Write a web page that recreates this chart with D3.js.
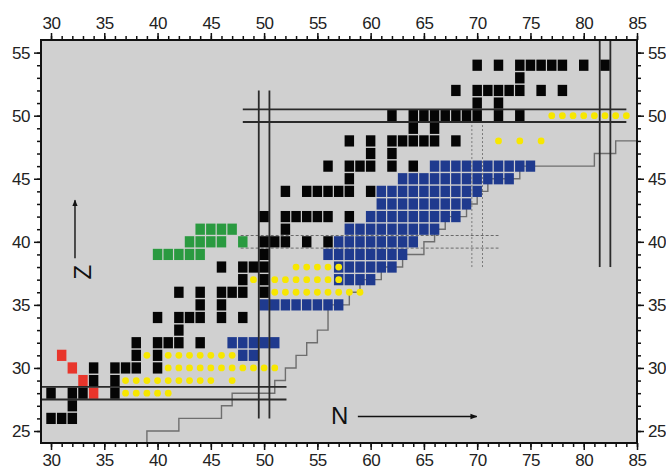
<!DOCTYPE html>
<html><head><meta charset="utf-8">
<script src="https://cdn.jsdelivr.net/npm/d3@7"></script>
<style>body{margin:0;background:#fff}svg{display:block}</style>
</head><body>
<svg id="c" width="666" height="474"></svg>
<script>
// ---- data (N = neutrons on x, Z = protons on y) ----
const xTickLabels = [30,35,40,45,50,55,60,65,70,75,80,85];
const yTickLabels = [25,30,35,40,45,50,55];
// runs: [Z, Nfrom, Nto]
const blackRuns = [
 [26,30,32],[27,32,32],[28,30,30],[28,32,33],[28,36,36],
 [29,34,34],[29,36,36],[30,34,34],[30,36,38],[30,40,40],
 [31,38,38],[31,40,40],[32,38,38],[32,40,42],[32,44,44],
 [33,42,42],[34,40,40],[34,42,44],[34,46,46],[34,48,48],
 [35,44,44],[35,46,46],[36,42,42],[36,44,44],[36,46,48],[36,50,50],
 [37,48,48],[37,50,50],[38,46,46],[38,48,50],[39,50,50],
 [40,50,52],[40,54,54],[40,56,56],[41,52,52],
 [42,50,50],[42,52,56],[42,58,58],
 [44,52,52],[44,54,58],[44,60,60],[45,58,58],
 [46,56,56],[46,58,60],[46,62,62],[46,64,64],
 [47,60,60],[47,62,62],
 [48,58,58],[48,60,60],[48,62,66],[48,68,68],
 [49,64,64],[49,66,66],
 [50,62,62],[50,64,70],[50,72,72],[50,74,74],
 [51,70,70],[51,72,72],
 [52,68,68],[52,70,74],[52,76,76],[52,78,78],
 [53,74,74],
 [54,70,70],[54,72,72],[54,74,78],[54,80,80],[54,82,82]
];
const blueRuns = [
 [31,48,49],[32,47,51],[35,50,57],[37,57,60],[38,57,62],[39,56,63],
 [40,57,64],[41,58,66],[42,60,68],[43,61,69],[44,61,70],[45,63,73],[46,66,75]
];
const greenRuns = [[39,40,44],[40,43,46],[40,48,48],[41,44,47]];
const redCells = [[31,31],[32,30],[33,29],[34,28]]; // [N, Z]
const yellowRuns = [
 [28,37,41],[29,37,45],[29,47,47],[30,41,51],[31,39,39],[31,41,47],
 [36,51,59],[37,49,49],[37,51,57],[38,53,57],
 [48,72,72],[48,74,74],[48,76,76],[50,77,84]
];
// grey limit staircase [N, Z]
const limitLine = [
 [39,24.05],[39,25],[42,25],[42,26],[46,26],[46,27],[47,27],[47,28],[51,28],[51,29],
 [52,29],[52,30],[53,30],[53,31],[54,31],[54,32],[55,32],[55,33],[56,33],[56,35],
 [58,35],[58,36],[59,36],[59,37],[61,37],[61,38],[63,38],[63,39],[65,39],[65,40],
 [66,40],[66,41],[67,41],[67,42],[69,42],[69,43],[70,43],[70,44],[71,44],[71,45],
 [74,45],[74,46],[81,46],[81,47],[83,47],[83,48],[85,48]
];
// double magic lines: [x1,y1,x2,y2] in (N,Z)
const solidLines = [
 [29.06,27.5,52.1,27.5],[29.06,28.5,52.1,28.5],
 [49.5,26,49.5,52],[50.5,26,50.5,52],
 [48,49.5,84,49.5],[48,50.5,84,50.5],
 [81.5,38,81.5,56],[82.5,38,82.5,56]
];
const dashedLines = [
 [47.8,39.5,72,39.5],[47.8,40.5,72,40.5],
 [69.5,38,69.5,49.5],[70.5,38,70.5,49.5]
];
const annotations = [
 {text:"N", n:57.1, z:26.2, rot:0},
 {text:"Z", n:33.0, z:37.6, rot:-90}
];
const arrows = [[58.8,26.15,69.96,26.15],[32.25,38.7,32.25,43.3]];

// ---- chart ----
const svg = d3.select("#c");
const pL=41,pR=637,pT=40,pB=443;
const x = d3.scaleLinear().domain([29.06,85]).range([pL,pR]);
const y = d3.scaleLinear().domain([24.05,56]).range([pB,pT]);
const cw = x(1)-x(0), ch = y(0)-y(1);

svg.append("rect").attr("x",pL).attr("y",pT).attr("width",pR-pL).attr("height",pB-pT).attr("fill","#d0d0d0");

const expand = runs => runs.flatMap(([z,a,b]) => d3.range(a,b+1).map(n=>[n,z]));

svg.append("g").selectAll("line").data(dashedLines.slice(0,2)).join("line")
 .attr("x1",d=>x(d[0])).attr("y1",d=>y(d[1])).attr("x2",d=>x(d[2])).attr("y2",d=>y(d[3]))
 .attr("stroke","#6a6a6a").attr("stroke-width",1).attr("stroke-dasharray","3,2");

svg.append("path").datum(limitLine)
 .attr("d",d3.line().x(d=>x(d[0])).y(d=>y(d[1])))
 .attr("fill","none").attr("stroke","#6e6e6e").attr("stroke-width",1.4);

function cells(data,color){
 svg.append("g").selectAll("rect").data(data).join("rect")
  .attr("x",d=>x(d[0])-cw/2+0.6).attr("y",d=>y(d[1])-ch/2+0.7)
  .attr("width",cw-1.2).attr("height",ch-1.4).attr("fill",color);
}
cells(expand(blackRuns),"#050505");
cells(expand(blueRuns),"#1f3a8e");
cells(expand(greenRuns),"#2a9a40");
cells(redCells,"#e8352b");

svg.append("g").selectAll("circle").data(expand(yellowRuns)).join("circle")
 .attr("cx",d=>x(d[0])).attr("cy",d=>y(d[1])).attr("r",3.4).attr("fill","#f7e700");

svg.append("g").selectAll("line").data(dashedLines.slice(2)).join("line")
 .attr("x1",d=>x(d[0])).attr("y1",d=>y(d[1])).attr("x2",d=>x(d[2])).attr("y2",d=>y(d[3]))
 .attr("stroke","#7a7a7a").attr("stroke-width",1).attr("stroke-dasharray","2,2");

svg.append("g").selectAll("line").data(solidLines).join("line")
 .attr("x1",d=>x(d[0])).attr("y1",d=>y(d[1])).attr("x2",d=>x(d[2])).attr("y2",d=>y(d[3]))
 .attr("stroke","#2a2a2a").attr("stroke-width",1.8);

const defs = svg.append("defs");
defs.append("marker").attr("id","ah").attr("viewBox","0 0 10 10").attr("refX",9).attr("refY",5)
 .attr("markerWidth",7).attr("markerHeight",7).attr("markerUnits","userSpaceOnUse").attr("orient","auto")
 .append("path").attr("d","M0,1 L10,5 L0,9 Z").attr("fill","#111");
svg.append("g").selectAll("line").data(arrows).join("line")
 .attr("x1",d=>x(d[0])).attr("y1",d=>y(d[1])).attr("x2",d=>x(d[2])).attr("y2",d=>y(d[3]))
 .attr("stroke","#111").attr("stroke-width",1.4).attr("marker-end","url(#ah)");
svg.append("g").selectAll("text").data(annotations).join("text")
 .attr("transform",d=>`translate(${x(d.n)},${y(d.z)}) rotate(${d.rot})`)
 .attr("text-anchor","middle").attr("dominant-baseline","central")
 .attr("font-family","Liberation Sans, Arial, sans-serif").attr("font-size",24).attr("fill","#111")
 .text(d=>d.text);

const font = "Liberation Sans, Arial, sans-serif";
const minorX = d3.range(30,86), minorY = d3.range(25,56);
function axis(gen, tr, major, minor){
 const g1 = svg.append("g").attr("transform",tr).call(gen.tickValues(minor).tickSize(4).tickFormat(""));
 const g2 = svg.append("g").attr("transform",tr).call(gen.tickValues(major).tickSize(7).tickPadding(4).tickFormat(d3.format("d")));
 [g1,g2].forEach(g=>{g.select(".domain").remove();g.selectAll("line").attr("stroke","#111").attr("stroke-width",1.5);});
 g2.selectAll("text").attr("font-family",font).attr("font-size",17).attr("fill","#222").attr("letter-spacing","-0.5px");
}
axis(d3.axisBottom(x),`translate(0,${pB})`,xTickLabels,minorX);
axis(d3.axisTop(x),`translate(0,${pT})`,xTickLabels,minorX);
axis(d3.axisLeft(y),`translate(${pL},0)`,yTickLabels,minorY);
axis(d3.axisRight(y),`translate(${pR},0)`,yTickLabels,minorY);

svg.append("rect").attr("x",pL).attr("y",pT).attr("width",pR-pL).attr("height",pB-pT)
 .attr("fill","none").attr("stroke","#111").attr("stroke-width",2);
</script>
</body></html>
